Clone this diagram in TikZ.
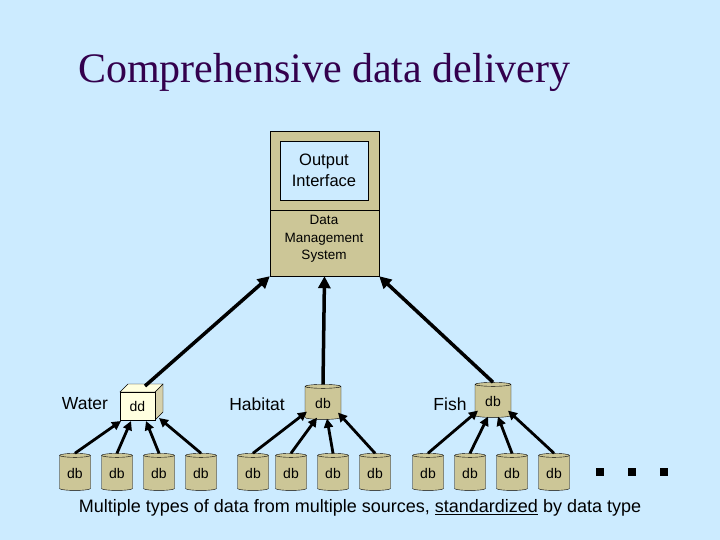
\documentclass[tikz,border=0pt]{standalone}
\usepackage{fontspec}
\setmainfont{Liberation Sans}
\newfontfamily\seriff{Liberation Serif}
\usetikzlibrary{shapes.geometric,calc,arrows.meta}
\definecolor{bg}{HTML}{CCEBFF}
\definecolor{khaki}{HTML}{CCC697}
\definecolor{cream}{HTML}{FFFFE0}
\definecolor{ttl}{HTML}{33004D}
\begin{document}
\begin{tikzpicture}[x=1pt,y=-1pt,
  db/.style={cylinder,shape border rotate=90,aspect=0.25,draw=black,fill=khaki,minimum width=31pt,minimum height=37pt,inner sep=0pt,font=\fontsize{14}{16}\selectfont},
  dbm/.style={db,minimum width=36pt,minimum height=35pt},
  arr/.style={line width=3.5pt,-{Triangle[length=12pt,width=12pt]}},
  sarr/.style={line width=2.8pt,-{Triangle[length=9pt,width=9pt]}},
  lab/.style={font=\fontsize{17.5}{20}\selectfont}]
\fill[bg] (0,0) rectangle (720,540);
\useasboundingbox (0,0) rectangle (720,540);
\node[font=\seriff\fontsize{42}{48}\selectfont,text=ttl,anchor=west,inner sep=0pt] (title) at (78,72) {Comprehensive data delivery};
% main box
\node[draw,fill=khaki,minimum width=109pt,minimum height=145pt,inner sep=0pt] (sys) at (324.5,203.5) {};
\draw (270,210) -- (379,210);
\node[draw,fill=bg,minimum width=88pt,minimum height=59pt,align=center,font=\fontsize{16.5}{21}\selectfont,inner sep=0pt] (oi) at (324,170.5) {Output\\Interface};
\node[align=center,font=\fontsize{13.5}{17.5}\selectfont] (dms) at (324,239) {Data\\Management\\System};
% cube
\fill[khaki!80!white,draw=black] (155,392) -- (163,384) -- (163,412) -- (155,420) -- cycle;
\fill[cream,draw=black] (120,392) -- (128,384) -- (163,384) -- (155,392) -- cycle;
\node[draw,fill=cream,minimum width=35pt,minimum height=28pt,inner sep=0pt,font=\fontsize{14}{16}\selectfont] (dd) at (137.5,406) {dd};
\coordinate (ddtop) at (145,386);
\node[dbm] (hab) at (323,403) {db};
\node[dbm] (fish) at (493,401) {db};
\node[lab] at (85,404) {Water};
\node[lab] at (257,404) {Habitat};
\node[lab] at (450,404) {Fish};
\foreach \i/\x in {1/75,2/117,3/159,4/201,5/253,6/291,7/333,8/375,9/428,10/470,11/512,12/554}
  \node[db] (b\i) at (\x,473) {db};
% arrows up
\draw[arr] (ddtop) -- (sys.south west);
\draw[arr] (hab.north) -- (sys.south);
\draw[arr] (fish.north) -- (sys.south east);
\coordinate (w1) at (121,421); \coordinate (w2) at (131,421);
\coordinate (w3) at (146,421); \coordinate (w4) at (159,418);
\draw[sarr] (b1.north) -- (w1);
\draw[sarr] (b2.north) -- (w2);
\draw[sarr] (b3.north) -- (w3);
\draw[sarr] (b4.north) -- (w4);
\draw[sarr] (b5.north) -- ($(hab.south)+(-16,-8)$);
\draw[sarr] (b6.north) -- ($(hab.south)+(-6,-2)$);
\draw[sarr] (b7.north) -- ($(hab.south)+(4,-1)$);
\draw[sarr] (b8.north) -- ($(hab.south)+(15,-7)$);
\draw[sarr] (b9.north) -- ($(fish.south)+(-15,-7)$);
\draw[sarr] (b10.north) -- ($(fish.south)+(-5,-1)$);
\draw[sarr] (b11.north) -- ($(fish.south)+(5,-1)$);
\draw[sarr] (b12.north) -- ($(fish.south)+(15,-7)$);
\foreach \x in {600,632,664} \fill (\x-4,468) rectangle (\x+4,476);
\node[font=\fontsize{18}{20}\selectfont] (cap) at (360,508) {Multiple types of data from multiple sources, \underline{standardized} by data type};
\end{tikzpicture}
\end{document}
